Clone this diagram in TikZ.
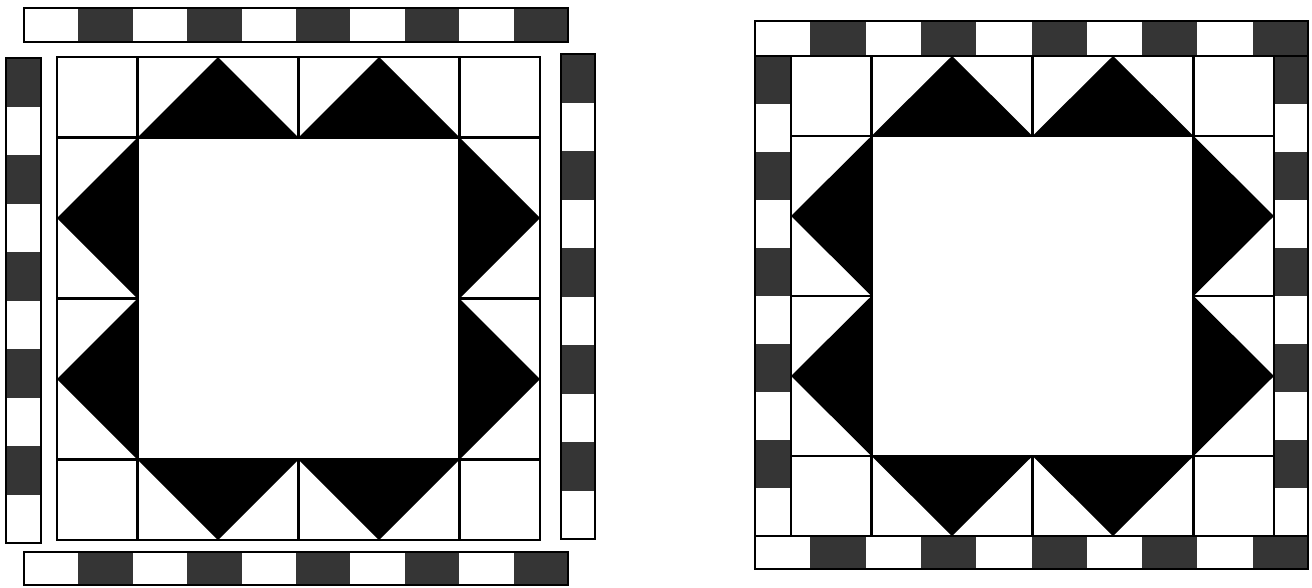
\documentclass[tikz,border=0pt]{standalone}
\definecolor{dk}{HTML}{353535}
\newcommand\myhstrip[5]{%
  \pgfmathsetmacro\sw{(#2-#1)/10}%
  \foreach \i in {0,...,9}{%
    \pgfmathtruncatemacro\p{mod(\i+#5,2)}%
    \ifnum\p=1 \fill[dk] ({#1+\i*\sw},#3) rectangle ({#1+(\i+1)*\sw},#4);\fi
  }%
  \draw[frame] (#1,#3) rectangle (#2,#4);%
}
\newcommand\myvstrip[5]{%
  \pgfmathsetmacro\sh{(#4-#3)/10}%
  \foreach \i in {0,...,9}{%
    \pgfmathtruncatemacro\p{mod(\i+#5,2)}%
    \ifnum\p=1 \fill[dk] (#1,{#3+\i*\sh}) rectangle (#2,{#3+(\i+1)*\sh});\fi
  }%
  \draw[frame] (#1,#3) rectangle (#2,#4);%
}
\newcommand\myquilt[4]{% x0 y0 cx cy
  \begin{scope}[shift={(#1,#2)},x=#3pt,y=-#4pt]
    \fill[black] (1,1)--(2,0)--(3,1)--cycle (3,1)--(4,0)--(5,1)--cycle;
    \fill[black] (1,5)--(2,6)--(3,5)--cycle (3,5)--(4,6)--(5,5)--cycle;
    \fill[black] (1,1)--(0,2)--(1,3)--cycle (1,3)--(0,4)--(1,5)--cycle;
    \fill[black] (5,1)--(6,2)--(5,3)--cycle (5,3)--(6,4)--(5,5)--cycle;
    \draw[frame] (0,0) rectangle (6,6);
    \draw[frame] (0,1)--(6,1) (0,5)--(6,5) (1,0)--(1,6) (5,0)--(5,6);
    \draw[frame] (0,3)--(1,3) (5,3)--(6,3) (3,0)--(3,1) (3,5)--(3,6);
  \end{scope}%
}
\begin{document}
\begin{tikzpicture}[x=1pt,y=-1pt,frame/.style={draw=black,line width=2.6pt}]
\useasboundingbox[fill=white] (0,0) rectangle (1312,587);
% left figure
\myquilt{57}{57}{80.5}{80.5}
\myhstrip{24}{568}{8}{42}{0}
\myhstrip{24}{568}{552}{585}{0}
\myvstrip{6}{41}{58}{543}{1}
\myvstrip{561}{595}{54}{539}{1}
% right figure
\myvstrip{755}{791}{56}{536}{1}
\myvstrip{1274}{1308}{56}{536}{1}
\myquilt{791}{56}{80.5}{80}
\myhstrip{755}{1308}{21}{56}{0}
\myhstrip{755}{1308}{536}{569}{0}
\end{tikzpicture}
\end{document}
